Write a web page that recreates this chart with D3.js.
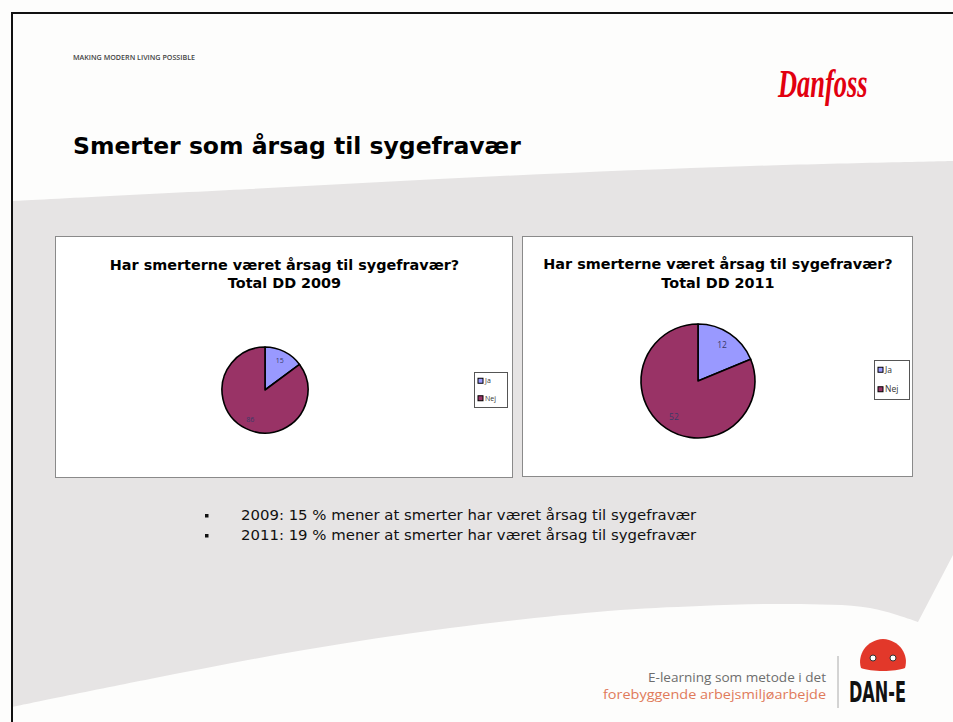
<!DOCTYPE html>
<html>
<head>
<meta charset="utf-8">
<script src="https://cdn.jsdelivr.net/npm/d3@7/dist/d3.min.js"></script>
<style>
  body { margin: 0; background: #fff; }
  svg { display: block; }
</style>
</head>
<body>
<div class="slide"></div>
<script>
// data
var categories = ["Ja", "Nej"];
var values2009 = [15, 86];
var values2011 = [12, 52];
var chartTitles = ["Har smerterne været årsag til sygefravær?", "Total DD 2009", "Total DD 2011"];
var bullets = [
  "2009: 15 % mener at smerter har været årsag til sygefravær",
  "2011: 19 % mener at smerter har været årsag til sygefravær"
];
var sliceColors = ["#9999ff", "#993366"];

var W = 953, H = 722;
var svg = d3.select(".slide").append("svg")
  .attr("width", W)
  .attr("height", H);

// background
svg.append("rect").attr("width", W).attr("height", H).attr("fill", "#fdfdfc");

var smooth = d3.line().curve(d3.curveCatmullRom);
var topEdge = [[12, 201], [250, 189], [500, 176], [750, 166], [953, 161]];
var bottomEdge = [[918, 622], [870, 608], [790, 604], [700, 606], [608, 611], [450, 628], [304, 650], [150, 679], [12, 707]];
var bgPath = smooth(topEdge) + "L953,555" + smooth(bottomEdge).replace(/^M/, "L") + "Z";
svg.append("path")
  .attr("d", bgPath)
  .attr("fill", "#e6e4e4");

// slide frame
svg.append("rect")
  .attr("x", 12).attr("y", 13)
  .attr("width", W + 20).attr("height", H + 20)
  .attr("fill", "none")
  .attr("stroke", "#111")
  .attr("stroke-width", 2);

// header
svg.append("text")
  .attr("x", 73).attr("y", 60)
  .attr("font-family", "Open Sans")
  .attr("font-size", 7)
  .attr("font-weight", 600)
  .attr("fill", "#444")
  .attr("textLength", 122)
  .attr("lengthAdjust", "spacingAndGlyphs")
  .text("MAKING MODERN LIVING POSSIBLE");

svg.append("text")
  .attr("transform", "translate(778,97) scale(0.66,1)")
  .attr("font-family", "Liberation Serif")
  .attr("font-style", "italic")
  .attr("font-weight", "bold")
  .attr("font-size", 40)
  .attr("fill", "#e2000f")
  .text("Danfoss");

svg.append("text")
  .attr("x", 73).attr("y", 154)
  .attr("font-family", "DejaVu Sans")
  .attr("font-weight", "bold")
  .attr("font-size", 23.5)
  .attr("fill", "#000")
  .text("Smerter som årsag til sygefravær");

// pie charts
function drawPie(values, box, center, r, yearTitle, titleY, legendBox, fontSize) {
  var g = svg.append("g");
  g.append("rect")
    .attr("x", box[0] + 0.5).attr("y", box[1] + 0.5)
    .attr("width", box[2]).attr("height", box[3])
    .attr("fill", "#fff")
    .attr("stroke", "#8a8a8a");

  var tx = box[0] + box[2] / 2 + 1;
  g.append("text")
    .attr("x", tx).attr("y", titleY[0])
    .attr("text-anchor", "middle")
    .attr("font-family", "DejaVu Sans").attr("font-weight", "bold")
    .attr("font-size", 14.4)
    .text(chartTitles[0]);
  g.append("text")
    .attr("x", tx).attr("y", titleY[1])
    .attr("text-anchor", "middle")
    .attr("font-family", "DejaVu Sans").attr("font-weight", "bold")
    .attr("font-size", 14.4)
    .text(yearTitle);

  var pie = d3.pie().sort(null);
  var arcs = pie(values);
  var arc = d3.arc().innerRadius(0).outerRadius(r);
  var labelArc = d3.arc().innerRadius(r * 0.76).outerRadius(r * 0.76);

  var pg = g.append("g").attr("transform", "translate(" + center[0] + "," + center[1] + ")");
  pg.selectAll("path")
    .data(arcs).enter().append("path")
    .attr("d", arc)
    .attr("fill", function(d, i) { return sliceColors[i]; })
    .attr("stroke", "#000")
    .attr("stroke-width", 1.6)
    .attr("stroke-linejoin", "round");

  pg.selectAll(".lbl")
    .data(arcs).enter().append("text")
    .attr("class", "lbl")
    .attr("transform", function(d) { return "translate(" + labelArc.centroid(d) + ")"; })
    .attr("text-anchor", "middle")
    .attr("dy", "0.35em")
    .attr("font-family", "Open Sans")
    .attr("font-size", fontSize)
    .attr("fill", "#3a3a66")
    .text(function(d) { return d.data; });

  // legend
  var lg = g.append("g");
  lg.append("rect")
    .attr("x", legendBox[0] + 0.5).attr("y", legendBox[1] + 0.5)
    .attr("width", legendBox[2]).attr("height", legendBox[3])
    .attr("fill", "#fff")
    .attr("stroke", "#555");
  var ly = d3.scalePoint()
    .domain(categories)
    .range([legendBox[1] + legendBox[3] * 0.25, legendBox[1] + legendBox[3] * 0.75]);
  var items = lg.selectAll(".item")
    .data(categories).enter().append("g")
    .attr("transform", function(d) { return "translate(" + (legendBox[0] + 4) + "," + ly(d) + ")"; });
  items.append("rect")
    .attr("x", 0).attr("y", -2.5)
    .attr("width", 5).attr("height", 5)
    .attr("fill", function(d, i) { return sliceColors[i]; })
    .attr("stroke", "#000")
    .attr("stroke-width", 1);
  items.append("text")
    .attr("x", 7).attr("dy", "0.35em")
    .attr("font-family", "Open Sans")
    .attr("font-size", fontSize)
    .attr("fill", "#333")
    .text(function(d) { return d; });
}

drawPie(values2009, [55, 236, 457, 241], [265, 390], 43, chartTitles[1], [270, 288], [474, 372, 33, 35], 7);
drawPie(values2011, [522, 236, 390, 240], [698, 381], 57, chartTitles[2], [269, 288], [874, 360, 35, 39], 8.5);

// bullets
var by = d3.scalePoint().domain(d3.range(bullets.length)).range([520, 540]);
var bl = svg.selectAll(".bullet")
  .data(bullets).enter().append("g")
  .attr("transform", function(d, i) { return "translate(0," + by(i) + ")"; });
bl.append("rect")
  .attr("x", 205).attr("y", -6).attr("width", 3.5).attr("height", 3.5)
  .attr("fill", "#111");
bl.append("text")
  .attr("x", 241)
  .attr("font-family", "DejaVu Sans")
  .attr("font-size", 14.9)
  .attr("fill", "#111")
  .text(function(d) { return d; });

// footer
svg.append("text")
  .attr("x", 826).attr("y", 682)
  .attr("text-anchor", "end")
  .attr("font-family", "Open Sans")
  .attr("font-size", 12)
  .attr("fill", "#6d6d6d")
  .attr("textLength", 178)
  .attr("lengthAdjust", "spacingAndGlyphs")
  .text("E-learning som metode i det");
svg.append("text")
  .attr("x", 826).attr("y", 699)
  .attr("text-anchor", "end")
  .attr("font-family", "Open Sans")
  .attr("font-size", 12)
  .attr("fill", "#e07a5a")
  .attr("textLength", 223)
  .attr("lengthAdjust", "spacingAndGlyphs")
  .text("forebyggende arbejsmiljøarbejde");
svg.append("line")
  .attr("x1", 838).attr("x2", 838)
  .attr("y1", 656).attr("y2", 708)
  .attr("stroke", "#aaa");

var dane = svg.append("g");
dane.append("path")
  .attr("d", "M861,668 C857,655 866,640 883,639 C900,640 909,655 905,668 C895,672 871,672 861,668 Z")
  .attr("fill", "#e2382a");
dane.append("circle").attr("cx", 873).attr("cy", 658).attr("r", 3).attr("fill", "#fff").attr("stroke", "#333");
dane.append("circle").attr("cx", 893).attr("cy", 658).attr("r", 3).attr("fill", "#fff").attr("stroke", "#333");
dane.append("text")
  .attr("x", 849).attr("y", 702)
  .attr("font-family", "DejaVu Sans")
  .attr("font-weight", "bold")
  .attr("font-size", 28)
  .attr("fill", "#111")
  .attr("textLength", 57)
  .attr("lengthAdjust", "spacingAndGlyphs")
  .text("DAN-E");
</script>
</body>
</html>
